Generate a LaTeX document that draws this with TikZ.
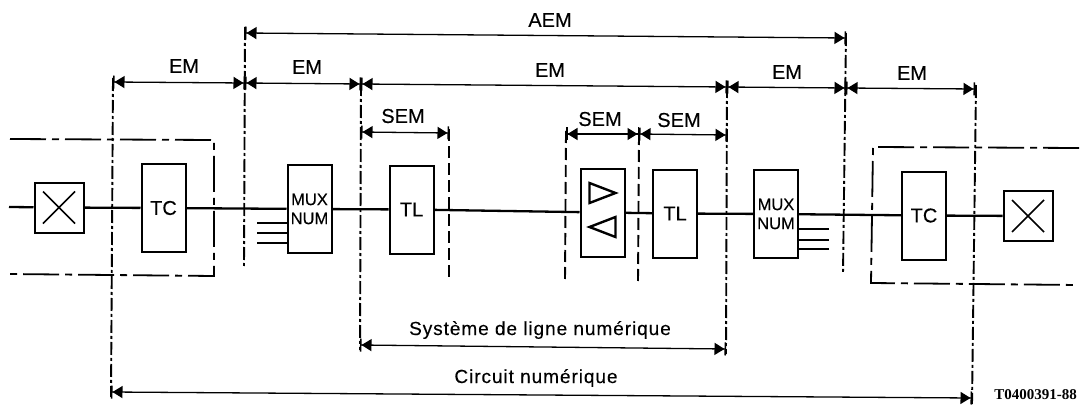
\documentclass[tikz,border=0pt]{standalone}
\usepackage{fontspec}
\setmainfont{Liberation Sans}[FakeBold=0.25]
\newfontfamily\codefont{Liberation Serif}
\usetikzlibrary{arrows.meta}
\tikzset{
    block/.style={draw, line width=2pt, minimum width=44pt, minimum height=88pt, inner sep=0pt, font=\fontsize{20}{22}\selectfont},
    crossbox/.style={block, minimum width=49pt, minimum height=50pt},
    muxbox/.style={block, font=\fontsize{16.5}{19}\selectfont, align=center},
    wire/.style={line width=2.3pt},
    guide/.style={line width=1.9pt, dash pattern=on 13pt off 3pt on 3pt off 3pt},
    frameline/.style={line width=1.8pt, dash pattern=on 36pt off 6pt on 7pt off 6pt},
    semguide/.style={line width=1.9pt, dash pattern=on 12pt off 5pt},
    span/.style={line width=1.3pt, {Bar[width=13pt,line width=1.5pt]Triangle[length=10pt,width=12pt]}-{Triangle[length=10pt,width=12pt]Bar[width=13pt,line width=1.5pt]}},
    lbl/.style={inner sep=0pt, font=\fontsize{20}{22}\selectfont},
    longlbl/.style={inner sep=0pt, font=\fontsize{19}{22}\selectfont\addfontfeature{LetterSpace=5}}
}
\begin{document}
\begin{tikzpicture}[x=1pt, y=-1pt]
    \useasboundingbox (0,0) rectangle (1081,417);

    \node (xl) [crossbox] at (59,207.5) {};
    \node (tcl) [block, right of=xl, node distance=104.5pt, yshift=-0.5pt] {TC};
    \node (muxl) [muxbox, right of=tcl, node distance=146pt, yshift=-1pt] {MUX\\NUM};
    \node (tll) [block, right of=muxl, node distance=102pt, yshift=-0.5pt] {TL};
    \node (amp) [block, right of=tll, node distance=191pt, yshift=-3pt] {};
    \node (tlr) [block, right of=amp, node distance=72.5pt, yshift=-1pt] {TL};
    \node (muxr) [muxbox, right of=tlr, node distance=101pt, yshift=-0.5pt] {MUX\\NUM};
    \node (tcr) [block, right of=muxr, node distance=148pt, yshift=-1.5pt] {TC};
    \node (xr) [crossbox, right of=tcr, node distance=104pt, yshift=-0.5pt] {};

    % free ends of the line and of the tributaries
    \coordinate (linein) at (9,207);
    \foreach \i/\y in {1/223, 2/233, 3/243} \coordinate (tribl\i) at (257,\y);
    \foreach \i/\y in {1/229, 2/240, 3/249} \coordinate (tribr\i) at (829,\y);

    % main line
    \path[wire]
    (linein)    edge    (xl)
    (xl)        edge    (tcl)
    (tcl)       edge    (muxl)
    (muxl)      edge    (tll)
    (tll)       edge    (amp)
    (amp)       edge    (tlr)
    (tlr)       edge    (muxr)
    (muxr)      edge    (tcr)
    (tcr)       edge    (xr)
    ;

    % tributaries
    \foreach \i in {1,2,3} {
        \draw[wire] (tribl\i) -- (tribl\i -| muxl.west);
        \draw[wire] (tribr\i) -- (tribr\i -| muxr.east);
    }

    % marks inside the boxes
    \foreach \n in {xl,xr}
        \draw[line width=1.6pt] ([shift={(-16,-16)}]\n.center) -- ([shift={(16,16)}]\n.center)
            ([shift={(-16,16)}]\n.center) -- ([shift={(16,-16)}]\n.center);
    \draw[line width=2.4pt] ([shift={(-13,-29.5)}]amp.center) -- ++(26,10) -- ++(-26,10) -- cycle;
    \draw[line width=2.4pt] ([shift={(-13,14.5)}]amp.center) -- ++(26,-10) -- ++(0,20) -- cycle;

    % exchange frames
    \draw[frameline] (10,139) -- (214,140) -- (214,276) -- (8,274);
    \draw[frameline] (1079,148) -- (873,147) -- (871,283) -- (1078,285);

    % boundaries, top and bottom
    \coordinate (g1t) at (113,78);   \coordinate (g1b) at (111,397);
    \coordinate (g2t) at (245,27);   \coordinate (g2b) at (244,268);
    \coordinate (g3t) at (361,83);   \coordinate (g3b) at (360,350);
    \coordinate (g4t) at (449,129);  \coordinate (g4b) at (449,281);
    \coordinate (g5t) at (566,131);  \coordinate (g5b) at (565,281);
    \coordinate (g6t) at (639,133);  \coordinate (g6b) at (638,282);
    \coordinate (g7t) at (727,85);   \coordinate (g7b) at (726,354);
    \coordinate (g8t) at (846,33);   \coordinate (g8b) at (843,274);
    \coordinate (g9t) at (976,85);   \coordinate (g9b) at (972,404);

    \foreach \i in {1,2,3,7,8,9} \draw[guide] (g\i t) -- (g\i b);
    \foreach \i in {4,5,6} \draw[semguide] (g\i t) -- (g\i b);

    % spans over the boundaries
    \draw[span] (245,33) -- (846,38);
    \draw[span] (113,82) -- (245,83);
    \draw[span] (245,83) -- (361,84);
    \draw[span] (361,84) -- (727,87);
    \draw[span] (727,87) -- (846,88);
    \draw[span] (846,88) -- (975,89);
    \draw[span] (361,132) -- (449,133);
    \draw[span] (566,134) -- (639,134);
    \draw[span] (639,134) -- (727,135);
    \draw[span] (360,345) -- (726,349);
    \draw[span] (111,392) -- (972,398);

    \node (laem) [lbl] at (550,20) {AEM};
    \node (lem1) [lbl] at (184,66) {EM};
    \node (lem2) [lbl] at (307,67) {EM};
    \node (lem3) [lbl] at (550,70) {EM};
    \node (lem4) [lbl] at (787,72) {EM};
    \node (lem5) [lbl] at (912,73) {EM};
    \node (lsem1) [lbl] at (403,116) {SEM};
    \node (lsem2) [lbl] at (600,119) {SEM};
    \node (lsem3) [lbl] at (679,120) {SEM};
    \node (lsys) [longlbl] at (540,330) {Système de ligne numérique};
    \node (lcirc) [longlbl] at (536,378) {Circuit numérique};
    \node (lref) [inner sep=0pt, font=\fontsize{15}{17}\selectfont\codefont\bfseries] at (1035.5,395) {T0400391-88};
\end{tikzpicture}
\end{document}
